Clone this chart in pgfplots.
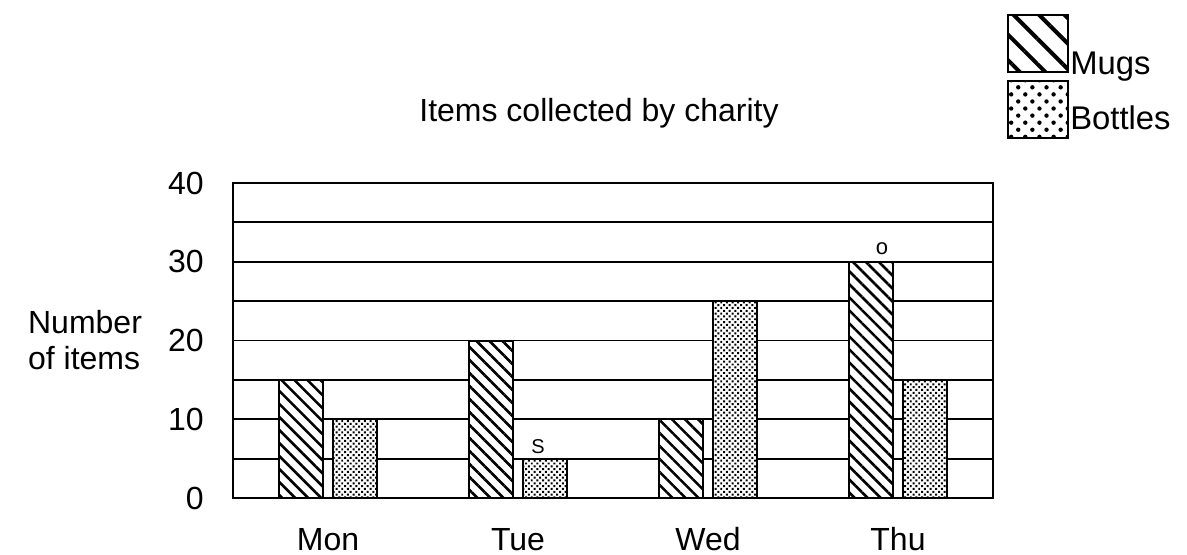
\documentclass[border=0pt]{standalone}
\usepackage{fontspec}
\setmainfont{Liberation Sans}
\usepackage{pgfplots}
\pgfplotsset{compat=1.18}
\usetikzlibrary{patterns.meta}
\newcommand\chfont{\fontsize{16}{18}\selectfont}
\begin{document}
\begin{tikzpicture}
\begin{axis}[
  at={(0,0)}, anchor=south west,
  scale only axis, width=380pt, height=157.5pt,
  xmin=-0.5, xmax=3.5, ymin=0, ymax=40,
  xtick={0,1,2,3}, xticklabels={Mon,Tue,Wed,Thu},
  ytick={0,10,20,30,40}, minor ytick={5,15,25,35},
  ymajorgrids, yminorgrids,
  major grid style={black, line width=0.9pt},
  minor grid style={black, line width=0.9pt},
  axis line style={line width=1.1pt},
  major tick length=0pt, minor tick length=0pt,
  tick label style={font=\chfont},
  /pgf/number format/assume math mode=true,
  xticklabel style={anchor=base, yshift=-26pt},
  yticklabel style={anchor=east, inner xsep=0pt, xshift=-14.5pt},
  ylabel={Number\\of items},
  ylabel style={font=\chfont, rotate=-90, align=left, at={(axis description cs:-0.1947,0.5016)}, anchor=center},
  title={Items collected by charity},
  title style={font=\chfont, at={(axis description cs:0.4816,1.1587)}, anchor=base, yshift=0pt},
  legend style={draw=none, fill=none, at={(axis description cs:1.017,1.5425)}, anchor=north west,
    inner sep=0pt, row sep=1.5pt, font=\fontsize{16.4}{19}\selectfont,
    /tikz/every even column/.append style={column sep=2.5pt},
    nodes={inner sep=0pt}},
  legend cell align=left,
]
\addplot[ybar, bar width=22pt, bar shift=-13.5pt, draw=black, line width=1pt, fill=white,
  postaction={pattern={Lines[angle=-45,distance=4.6pt,line width=1.3pt]}}, forget plot]
  coordinates {(0,15) (1,20) (2,10) (3,30)};
\addplot[ybar, bar width=22pt, bar shift=13.5pt, draw=black, line width=1pt, fill=white,
  postaction={pattern={Dots[distance=2pt,radius=0.7pt,angle=45]}}, forget plot]
  coordinates {(0,10) (1,5) (2,25) (3,15)};
\addlegendimage{legend image code/.code={\draw[line width=1pt, fill=white, postaction={pattern={Lines[angle=-45,distance=9pt,line width=2pt]}}] (0pt,-3.5pt) rectangle (30pt,25pt);}}
\addlegendentry{Mugs}
\addlegendimage{legend image code/.code={\draw[line width=1pt, fill=white, postaction={pattern={Dots[distance=5pt,radius=1.1pt,angle=45]}}] (0pt,-9.5pt) rectangle (30pt,19pt);}}
\addlegendentry{Bottles}
\node[font=\fontsize{11}{12}\selectfont] at (axis cs:2.916,31.7) {o};
\node[font=\fontsize{10}{12}\selectfont] at (axis cs:1.105,6.5) {S};
\end{axis}
\pgfresetboundingbox
\path[use as bounding box] (-116.5pt,-28pt) rectangle (477pt,249pt);
\end{tikzpicture}
\end{document}
